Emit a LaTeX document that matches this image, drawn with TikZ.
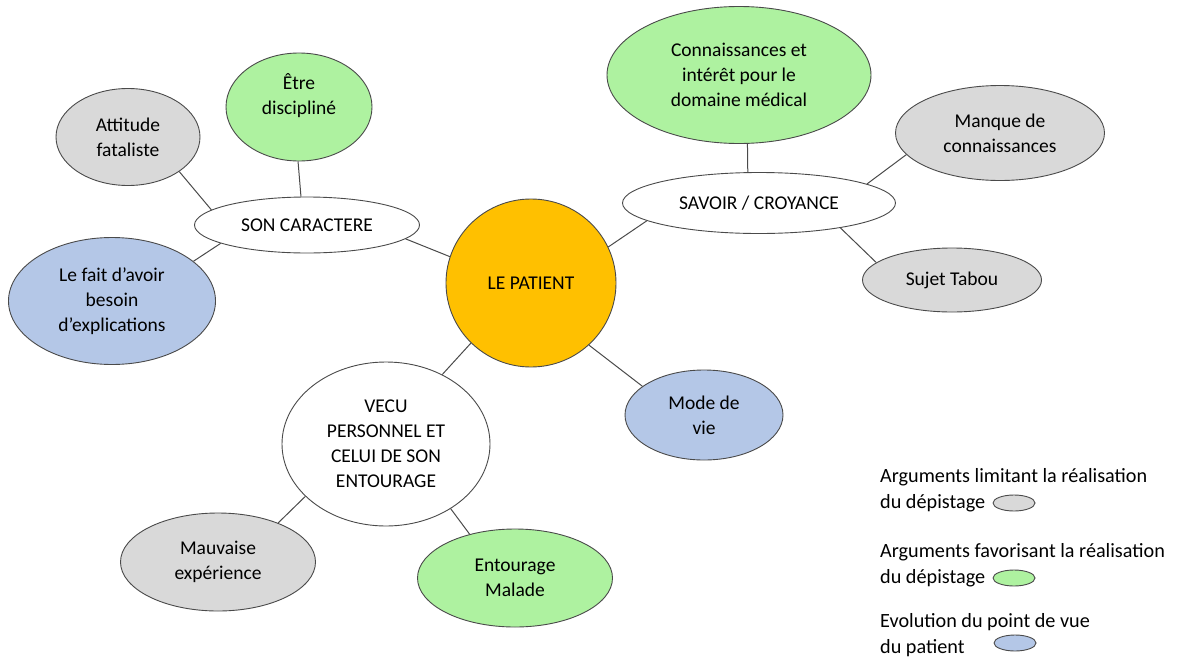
\documentclass[tikz,border=0pt]{standalone}
\usepackage{fontspec}
\setmainfont{Carlito}
\usetikzlibrary{shapes.geometric}
\definecolor{grisarg}{HTML}{D9D9D9}
\definecolor{vertarg}{HTML}{AEF2A0}
\definecolor{bleuarg}{HTML}{B4C7E7}
\definecolor{orpatient}{HTML}{FFC000}
\definecolor{traitgris}{HTML}{4A4A4A}
\begin{document}
\begin{tikzpicture}[x=1pt, y=-1pt,
    every node/.style={font=\fontsize{19.5}{25}\selectfont, text=black, align=center},
    bulle/.style={ellipse, draw=traitgris, line width=0.9pt, inner sep=0pt},
    limite/.style={bulle, fill=grisarg},
    favorise/.style={bulle, fill=vertarg},
    evolution/.style={bulle, fill=bleuarg},
    theme/.style={bulle, fill=white},
    legende/.style={anchor=west, align=left, inner sep=0pt, font=\fontsize{20.2}{25.5}\selectfont},
    lien/.style={draw=traitgris, line width=1pt}]
    \useasboundingbox (0,0) rectangle (1181,659);
    \node[bulle, fill=orpatient, minimum width=170, minimum height=168] (patient) at (531,283) {LE PATIENT};
    \node[theme, minimum width=225, minimum height=56] (caractere) at (307,225) {SON CARACTERE};
    \node[theme, minimum width=273, minimum height=61] (savoir) at (759,203) {SAVOIR / CROYANCE};
    \node[theme, minimum width=208, minimum height=164] (vecu) at (386,444) {VECU\\PERSONNEL ET\\CELUI DE SON\\ENTOURAGE};
    \node[limite, minimum width=144, minimum height=97] (attitude) at (128,137) {Attitude\\fataliste};
    \node[favorise, minimum width=146, minimum height=108] (discipline) at (299,107) {Être\\discipliné\\~};
    \node[evolution, minimum width=207, minimum height=127] (explications) at (112,301) {Le fait d’avoir\\besoin\\d’explications};
    \node[favorise, minimum width=264, minimum height=137] (medical) at (739,75) {Connaissances et\\intérêt pour le\\domaine médical};
    \node[limite, minimum width=209, minimum height=95] (manque) at (1000,133) {Manque de\\connaissances};
    \node[limite, minimum width=179, minimum height=64] (tabou) at (952,280) {Sujet Tabou};
    \node[evolution, minimum width=158, minimum height=90] (vie) at (704,415) {Mode de\\vie};
    \node[limite, minimum width=195, minimum height=98] (mauvaise) at (218,562) {Mauvaise\\expérience};
    \node[favorise, minimum width=195, minimum height=98] (malade) at (515,578) {Entourage\\Malade};
    \draw[lien] (attitude.-34.5) -- (caractere.171);
    \draw[lien] (discipline.-91) -- (caractere.102);
    \draw[lien] (explications.26) -- (caractere.192);
    \draw[lien] (caractere.-8) -- (patient.162);
    \draw[lien] (patient.25) -- (savoir.189);
    \draw[lien] (medical.-83) -- (savoir.110);
    \draw[lien] (savoir.10.6) -- (manque.193);
    \draw[lien] (savoir.-17) -- (tabou.167);
    \draw[lien] (patient.-47) -- (vie.155);
    \draw[lien] (patient.225.5) -- (vecu.51.4);
    \draw[lien] (vecu.213.7) -- (mauvaise.33);
    \draw[lien] (vecu.-45) -- (malade.136);
    \node[legende] (legendelimite) at (880,490) {Arguments limitant la réalisation\\du dépistage};
    \node[limite, minimum width=42, minimum height=16] (clelimite) at (1014,503) {};
    \node[legende] (legendefavorise) at (880,565) {Arguments favorisant la réalisation\\du dépistage};
    \node[favorise, minimum width=42, minimum height=16] (clefavorise) at (1014,578) {};
    \node[legende] (legendeevolution) at (880,635) {Evolution du point de vue\\du patient};
    \node[evolution, minimum width=42, minimum height=16] (cleevolution) at (1015,643) {};
\end{tikzpicture}
\end{document}
